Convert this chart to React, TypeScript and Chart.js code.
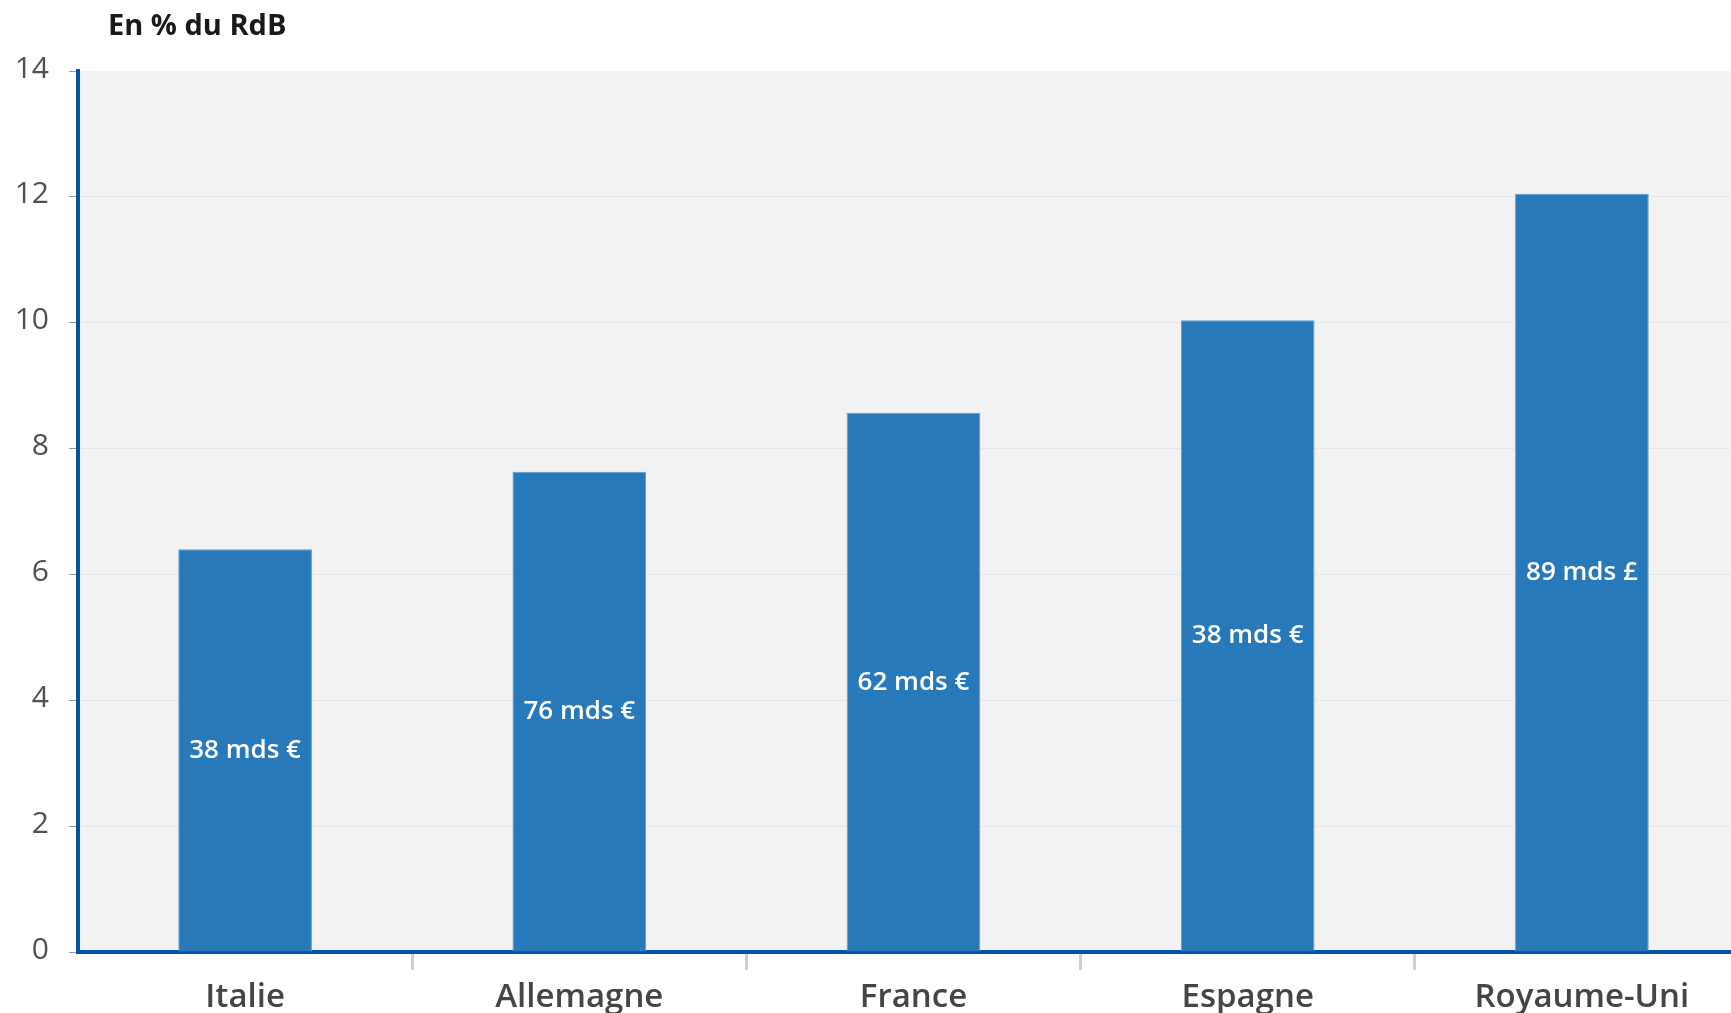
import React, { useEffect, useRef } from "react";
import { Chart, registerables } from "chart.js";

Chart.register(...registerables);

const categories = ["Italie", "Allemagne", "France", "Espagne", "Royaume-Uni"];
const valuesPctRdB = [6.4, 7.63, 8.57, 10.04, 12.05];
const barLabels = ["38 mds €", "76 mds €", "62 mds €", "38 mds €", "89 mds £"];
const yTicks = [0, 2, 4, 6, 8, 10, 12, 14];
const chartTitle = "En % du RdB";

const FONT = "'Open Sans', 'Noto Sans', sans-serif";

const bgPlugin = {
  id: "plotBg",
  beforeDraw(chart: any) {
    const { ctx, chartArea } = chart;
    ctx.save();
    ctx.fillStyle = "#F2F2F2";
    ctx.fillRect(chartArea.left, chartArea.top, chartArea.right - chartArea.left, chartArea.bottom - chartArea.top);
    ctx.restore();
  },
};

const titlePlugin = {
  id: "topTitle",
  afterDraw(chart: any) {
    const { ctx, chartArea } = chart;
    ctx.save();
    ctx.fillStyle = "#1A1A1A";
    ctx.font = `bold 29px ${FONT}`;
    ctx.textAlign = "left";
    ctx.textBaseline = "alphabetic";
    ctx.fillText(chartTitle, chartArea.left + 30, 35);
    ctx.restore();
  },
};

const barLabelPlugin = {
  id: "barLabels",
  afterDatasetsDraw(chart: any) {
    const { ctx } = chart;
    const meta = chart.getDatasetMeta(0);
    ctx.save();
    ctx.fillStyle = "#FFFFFF";
    ctx.font = `600 26px ${FONT}`;
    ctx.textAlign = "center";
    ctx.textBaseline = "middle";
    meta.data.forEach((bar: any, i: number) => {
      const y = (bar.y + bar.base) / 2;
      ctx.fillText(barLabels[i], bar.x, y);
    });
    ctx.restore();
  },
};

export default function App() {
  const ref = useRef<HTMLCanvasElement | null>(null);

  useEffect(() => {
    if (!ref.current) return;
    const chart = new Chart(ref.current, {
      type: "bar",
      data: {
        labels: categories,
        datasets: [
          {
            data: valuesPctRdB,
            backgroundColor: "#2779B9",
            borderColor: "#5D9BCF",
            borderWidth: 1,
            categoryPercentage: 1,
            barPercentage: 0.4,
          },
        ],
      },
      options: {
        animation: false,
        responsive: false,
        maintainAspectRatio: false,
        layout: { padding: { top: 71, left: 0, right: 11, bottom: 0 } },
        plugins: {
          legend: { display: false },
          tooltip: { enabled: false },
          title: { display: false },
        },
        scales: {
          x: {
            type: "category",
            afterFit: (s: any) => {
              s.height = 61;
            },
            grid: {
              display: true,
              offset: true,
              drawOnChartArea: false,
              drawTicks: true,
              tickLength: 18,
              lineWidth: 3,
              tickColor: (c: any) => (c.index === 0 ? "rgba(0,0,0,0)" : "#CFCFCF"),
              color: "rgba(0,0,0,0)",
            },
            border: { display: true, color: "#0054A6", width: 4 },
            ticks: {
              autoSkip: false,
              maxRotation: 0,
              minRotation: 0,
              padding: 8,
              color: "#454545",
              font: { family: FONT, size: 33, weight: "600" },
            },
          },
          y: {
            type: "linear",
            min: 0,
            max: 14,
            afterFit: (s: any) => {
              s.width = 78;
            },
            afterBuildTicks: (axis: any) => {
              axis.ticks = yTicks.map((v) => ({ value: v }));
            },
            grid: {
              color: (c: any) =>
                c.tick && (c.tick.value === 0 || c.tick.value === 14) ? "rgba(0,0,0,0)" : "#E6E6E6",
              lineWidth: 1,
              drawTicks: true,
              tickLength: 9,
              tickColor: "#9A9A9A",
            },
            border: { display: true, color: "#0054A6", width: 4 },
            ticks: {
              padding: 20,
              labelOffset: -2,
              color: "#505050",
              font: { family: FONT, size: 30 },
            },
          },
        },
      },
      plugins: [bgPlugin, barLabelPlugin, titlePlugin],
    });
    return () => chart.destroy();
  }, []);

  return (
    <div
      style={{
        position: "fixed",
        left: 0,
        top: 0,
        width: 1731,
        height: 1013,
        overflow: "hidden",
        background: "#FFFFFF",
      }}
    >
      <canvas ref={ref} width={1760} height={1013} style={{ display: "block", width: 1760, height: 1013 }} />
    </div>
  );
}
